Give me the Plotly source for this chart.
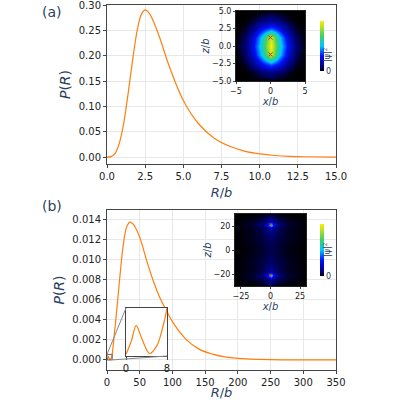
import plotly.graph_objects as go

# Panel (a) curve
ra = [0, 0.25, 0.5, 0.75, 1.0, 1.25, 1.5, 1.75, 2.0, 2.25, 2.5, 2.75, 3.0, 3.5, 4.0, 5.0, 6.0, 7.0, 8.0, 9.0, 10.0, 11.0, 12.0, 13.0, 15.0]
pa = [0, 0.001, 0.006, 0.022, 0.052, 0.097, 0.152, 0.207, 0.254, 0.282, 0.291, 0.285, 0.271, 0.232, 0.186, 0.112, 0.066, 0.038, 0.022, 0.012, 0.0065, 0.0033, 0.0016, 0.0008, 0.0002]
# Panel (b) curve
rb = [0, 1, 2, 3, 4.6, 6, 7, 8, 10, 15, 20, 25, 30, 35, 40, 50, 60, 70, 80, 90, 100, 120, 140, 160, 180, 200, 250, 300, 350]
pb = [0, 0.00015, 0.00034, 0.0002, 0.00001, 0.0001, 0.00028, 0.00055, 0.0018, 0.005, 0.0085, 0.0115, 0.0132, 0.0137, 0.0135, 0.0122, 0.0100, 0.0080, 0.0063, 0.0050, 0.0038, 0.0021, 0.0011, 0.0006, 0.0003, 0.00015, 0.00003, 0.0, 0.0]

# Heatmap (a)
hx_a = [-5, -3.75, -2.5, -1.25, 0, 1.25, 2.5, 3.75, 5]
hz_a = [-5, -3.75, -2.5, -1.25, 0, 1.25, 2.5, 3.75, 5]
r5 = [0, 0, 0, 0, 0.01, 0, 0, 0, 0]
r4 = [0, 0, 0.02, 0.07, 0.1, 0.07, 0.02, 0, 0]
r3 = [0, 0.02, 0.1, 0.28, 0.4, 0.28, 0.1, 0.02, 0]
r2 = [0, 0.05, 0.22, 0.52, 0.92, 0.52, 0.22, 0.05, 0]
r1 = [0.01, 0.07, 0.27, 0.58, 1.0, 0.58, 0.27, 0.07, 0.01]
hm_a = [r5, r4, r3, r2, r1, r2, r3, r4, r5]
# Heatmap (b)
hx_b = [-30, -15, -6, -2, 0, 2, 6, 15, 30]
hz_b = [-30, -24, -21, -18, -10, 0, 10, 18, 21, 24, 30]
b0 = [0, 0, 0.01, 0.02, 0.02, 0.02, 0.01, 0, 0]
bh = [0, 0.02, 0.05, 0.1, 0.15, 0.1, 0.05, 0.02, 0]
bs = [0, 0.03, 0.08, 0.3, 0.6, 0.3, 0.08, 0.03, 0]
bm = [0, 0.02, 0.04, 0.05, 0.06, 0.05, 0.04, 0.02, 0]
bc = [0, 0.01, 0.03, 0.04, 0.04, 0.04, 0.03, 0.01, 0]
hm_b = [b0, bh, bs, bh, bm, bc, bm, bh, bs, bh, b0]
cross_a = [-1.2, 1.2]
cross_b = [-21, 21]

cs = [[0, '#000000'], [0.06, '#00006a'], [0.3, '#0010ff'], [0.5, '#00c8ff'], [0.7, '#40d060'], [1, '#ffee00']]
orange = '#ff7f0e'

fig = go.Figure()
fig.add_trace(go.Scatter(x=ra, y=pa, mode='lines', line=dict(color=orange, width=1.2, shape='spline'), xaxis='x', yaxis='y'))
fig.add_trace(go.Scatter(x=rb, y=pb, mode='lines', line=dict(color=orange, width=1.2, shape='spline'), xaxis='x2', yaxis='y2'))
fig.add_trace(go.Scatter(x=rb, y=pb, mode='lines', line=dict(color=orange, width=1.2, shape='spline'), xaxis='x3', yaxis='y3'))
fig.add_trace(go.Heatmap(x=hx_a, y=hz_a, z=hm_a, colorscale=cs, zmin=0, zmax=1, zsmooth='best', xaxis='x4', yaxis='y4',
                         colorbar=dict(x=0.775, xanchor='left', y=0.7975, yanchor='bottom', len=0.175, lenmode='fraction',
                                       thickness=4, outlinewidth=0, tickvals=[0], ticktext=['0'], tickfont=dict(size=8), ticklen=0)))
fig.add_trace(go.Heatmap(x=hx_b, y=hz_b, z=hm_b, colorscale=cs, zmin=0, zmax=1, zsmooth='best', xaxis='x5', yaxis='y5',
                         colorbar=dict(x=0.775, xanchor='left', y=0.285, yanchor='bottom', len=0.18, lenmode='fraction',
                                       thickness=4, outlinewidth=0, tickvals=[0], ticktext=['0'], tickfont=dict(size=8), ticklen=0)))
fig.add_trace(go.Scatter(x=[0, 0], y=cross_a, mode='markers', marker=dict(symbol='x-thin', size=4, line=dict(color='#d03020', width=1)), xaxis='x4', yaxis='y4'))
fig.add_trace(go.Scatter(x=[0, 0], y=cross_b, mode='markers', marker=dict(symbol='x-thin', size=3, line=dict(color='#d03020', width=1)), xaxis='x5', yaxis='y5'))

ax = dict(showline=True, mirror=True, linecolor='#444', linewidth=1, showgrid=True, gridcolor='#e8e8e8', automargin=False,
          ticklabeloverflow='allow', ticks='outside', ticklen=3, tickcolor='#444', tickfont=dict(size=10, color='#222'), zeroline=False)
hax = dict(showline=True, mirror=True, linecolor='#222', showgrid=False, zeroline=False, ticks='outside', ticklen=2,
           automargin=False, tickfont=dict(size=8, color='#222'))

DX = [0.2675, 0.84]
X2 = [0, 350]; Y2 = [-0.001, 0.0149]; D2x = DX; D2y = [0.075, 0.475]
X3 = [0, 8]; Y3 = [-0.00002, 0.00055]; D3x = [0.315, 0.4175]; D3y = [0.11, 0.23]

fig.update_layout(
    width=400, height=400, margin=dict(l=0, r=0, t=0, b=0, autoexpand=False), showlegend=False,
    plot_bgcolor='white', paper_bgcolor='white', font=dict(family='DejaVu Sans'),
    xaxis=dict(ax, domain=DX, range=[0, 15], tickvals=[0, 2.5, 5, 7.5, 10, 12.5, 15], tickformat='.1f',
               title=dict(text='<i>R</i>/<i>b</i>', font=dict(size=13), standoff=6)),
    yaxis=dict(ax, domain=[0.59, 0.9875], range=[-0.0135, 0.3005], tickvals=[0, 0.05, 0.1, 0.15, 0.2, 0.25, 0.3], tickformat='.2f',
               title=dict(text='<i>P</i>(<i>R</i>)', font=dict(size=14), standoff=4)),
    xaxis2=dict(ax, domain=D2x, range=X2, dtick=50, anchor='y2',
                title=dict(text='<i>R</i>/<i>b</i>', font=dict(size=13), standoff=6)),
    yaxis2=dict(ax, domain=D2y, range=Y2, dtick=0.002, tickformat='.3f', anchor='x2',
                title=dict(text='<i>P</i>(<i>R</i>)', font=dict(size=14), standoff=4)),
    xaxis3=dict(showline=True, mirror=True, linecolor='#444', showgrid=False, zeroline=False, domain=D3x, range=X3, automargin=False,
                tickvals=[0, 8], ticks='outside', ticklen=3, tickfont=dict(size=10, color='#222'), anchor='y3'),
    yaxis3=dict(showline=True, mirror=True, linecolor='#444', showgrid=False, zeroline=False, domain=D3y, range=Y3, automargin=False,
                showticklabels=False, anchor='x3'),
    xaxis4=dict(hax, domain=[0.59, 0.7625], range=[-5, 5], tickvals=[-5, 0, 5], anchor='y4',
                title=dict(text='<i>x</i>/<i>b</i>', font=dict(size=10), standoff=0)),
    yaxis4=dict(hax, domain=[0.7975, 0.9725], range=[-5, 5], tickvals=[-5, -2.5, 0, 2.5, 5], tickformat='.1f', anchor='x4',
                title=dict(text='<i>z</i>/<i>b</i>', font=dict(size=10), standoff=0)),
    xaxis5=dict(hax, domain=[0.5875, 0.765], range=[-30, 30], tickvals=[-25, 0, 25], anchor='y5',
                title=dict(text='<i>x</i>/<i>b</i>', font=dict(size=10), standoff=0)),
    yaxis5=dict(hax, domain=[0.285, 0.465], range=[-30, 30], tickvals=[-20, 0, 20], anchor='x5',
                title=dict(text='<i>z</i>/<i>b</i>', font=dict(size=10), standoff=0)),
)

def px(v, r, d):
    return d[0] + (v - r[0]) / (r[1] - r[0]) * (d[1] - d[0])

rx0, rx1, ry0, ry1 = X3[0], X3[1], 0, Y3[1]
fig.add_shape(type='rect', xref='x2', yref='y2', x0=rx0, x1=rx1, y0=ry0, y1=ry1, line=dict(color='#666', width=1))
fig.add_shape(type='line', xref='paper', yref='paper', x0=px(rx0, X2, D2x), y0=px(ry1, Y2, D2y), x1=D3x[0], y1=D3y[1], line=dict(color='#888', width=1))
fig.add_shape(type='line', xref='paper', yref='paper', x0=px(rx1, X2, D2x), y0=px(ry0, Y2, D2y), x1=D3x[1], y1=D3y[0], line=dict(color='#888', width=1))

for yy, lab in [(0.995, '(a)'), (0.51, '(b)')]:
    fig.add_annotation(x=0.1, y=yy, xref='paper', yref='paper', text=lab, showarrow=False, xanchor='left', yanchor='top', font=dict(size=14))
for yy in [0.885, 0.375]:
    fig.add_annotation(x=0.835, y=yy, xref='paper', yref='paper', text='|ψ|<sup>2</sup>', textangle=-90, showarrow=False, font=dict(size=8))

fig.write_html('out.html', config={'displayModeBar': False},
               post_script="document.body.style.margin='0';document.body.style.overflow='hidden';")
